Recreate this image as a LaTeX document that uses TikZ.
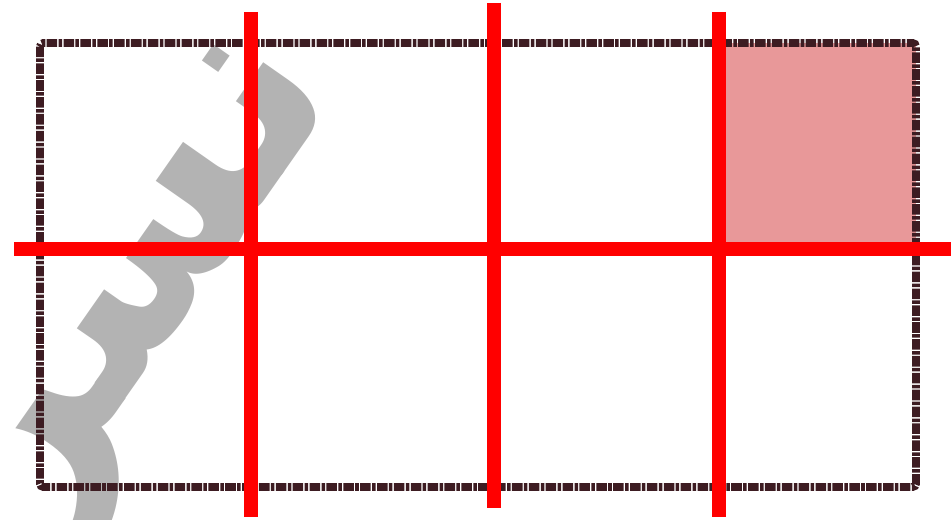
\documentclass[tikz,border=0pt]{standalone}
\usepackage{fontspec}
\newfontfamily\arabicfont[Script=Arabic]{DejaVu Sans}
\TeXXeTstate=1
\definecolor{frameBrown}{HTML}{3D1C22}
\definecolor{cellPink}{HTML}{E89899}
\definecolor{markGrey}{HTML}{B3B3B3}

\begin{document}
\begin{tikzpicture}[
  x=0.02cm, y=-0.02cm,
  frame/.style={draw=frameBrown, line width=4.5pt, rounded corners=2pt,
    dash pattern=on 6pt off 0.8pt on 2pt off 0.8pt},
  cutline/.style={draw=red, line width=8.5pt},
  shaded/.style={fill=cellPink}
]
\useasboundingbox (0,0) rectangle (951,520);

% watermark
\begin{scope}
  \clip (0,0) rectangle (951,520);
  \node[text=markGrey, rotate=55, font=\arabicfont\bfseries\fontsize{155}{155}\selectfont, inner sep=0pt]
    (mark) at (158,296) {\beginR نسر\endR};
\end{scope}

% grid corners
\coordinate (tl) at (40,43);
\coordinate (br) at (916,487);

\fill[shaded] (725,43) rectangle (916,242);
\draw[frame] (tl) rectangle (br);

% cut lines
\coordinate (v1a) at (251,12);  \coordinate (v1b) at (251,517);
\coordinate (v2a) at (494,3);   \coordinate (v2b) at (494,508);
\coordinate (v3a) at (719,12);  \coordinate (v3b) at (719,517);
\coordinate (ha) at (14,249);   \coordinate (hb) at (951,249);
\draw[cutline] (v1a) -- (v1b);
\draw[cutline] (v2a) -- (v2b);
\draw[cutline] (v3a) -- (v3b);
\draw[cutline] (ha) -- (hb);
\end{tikzpicture}
\end{document}
